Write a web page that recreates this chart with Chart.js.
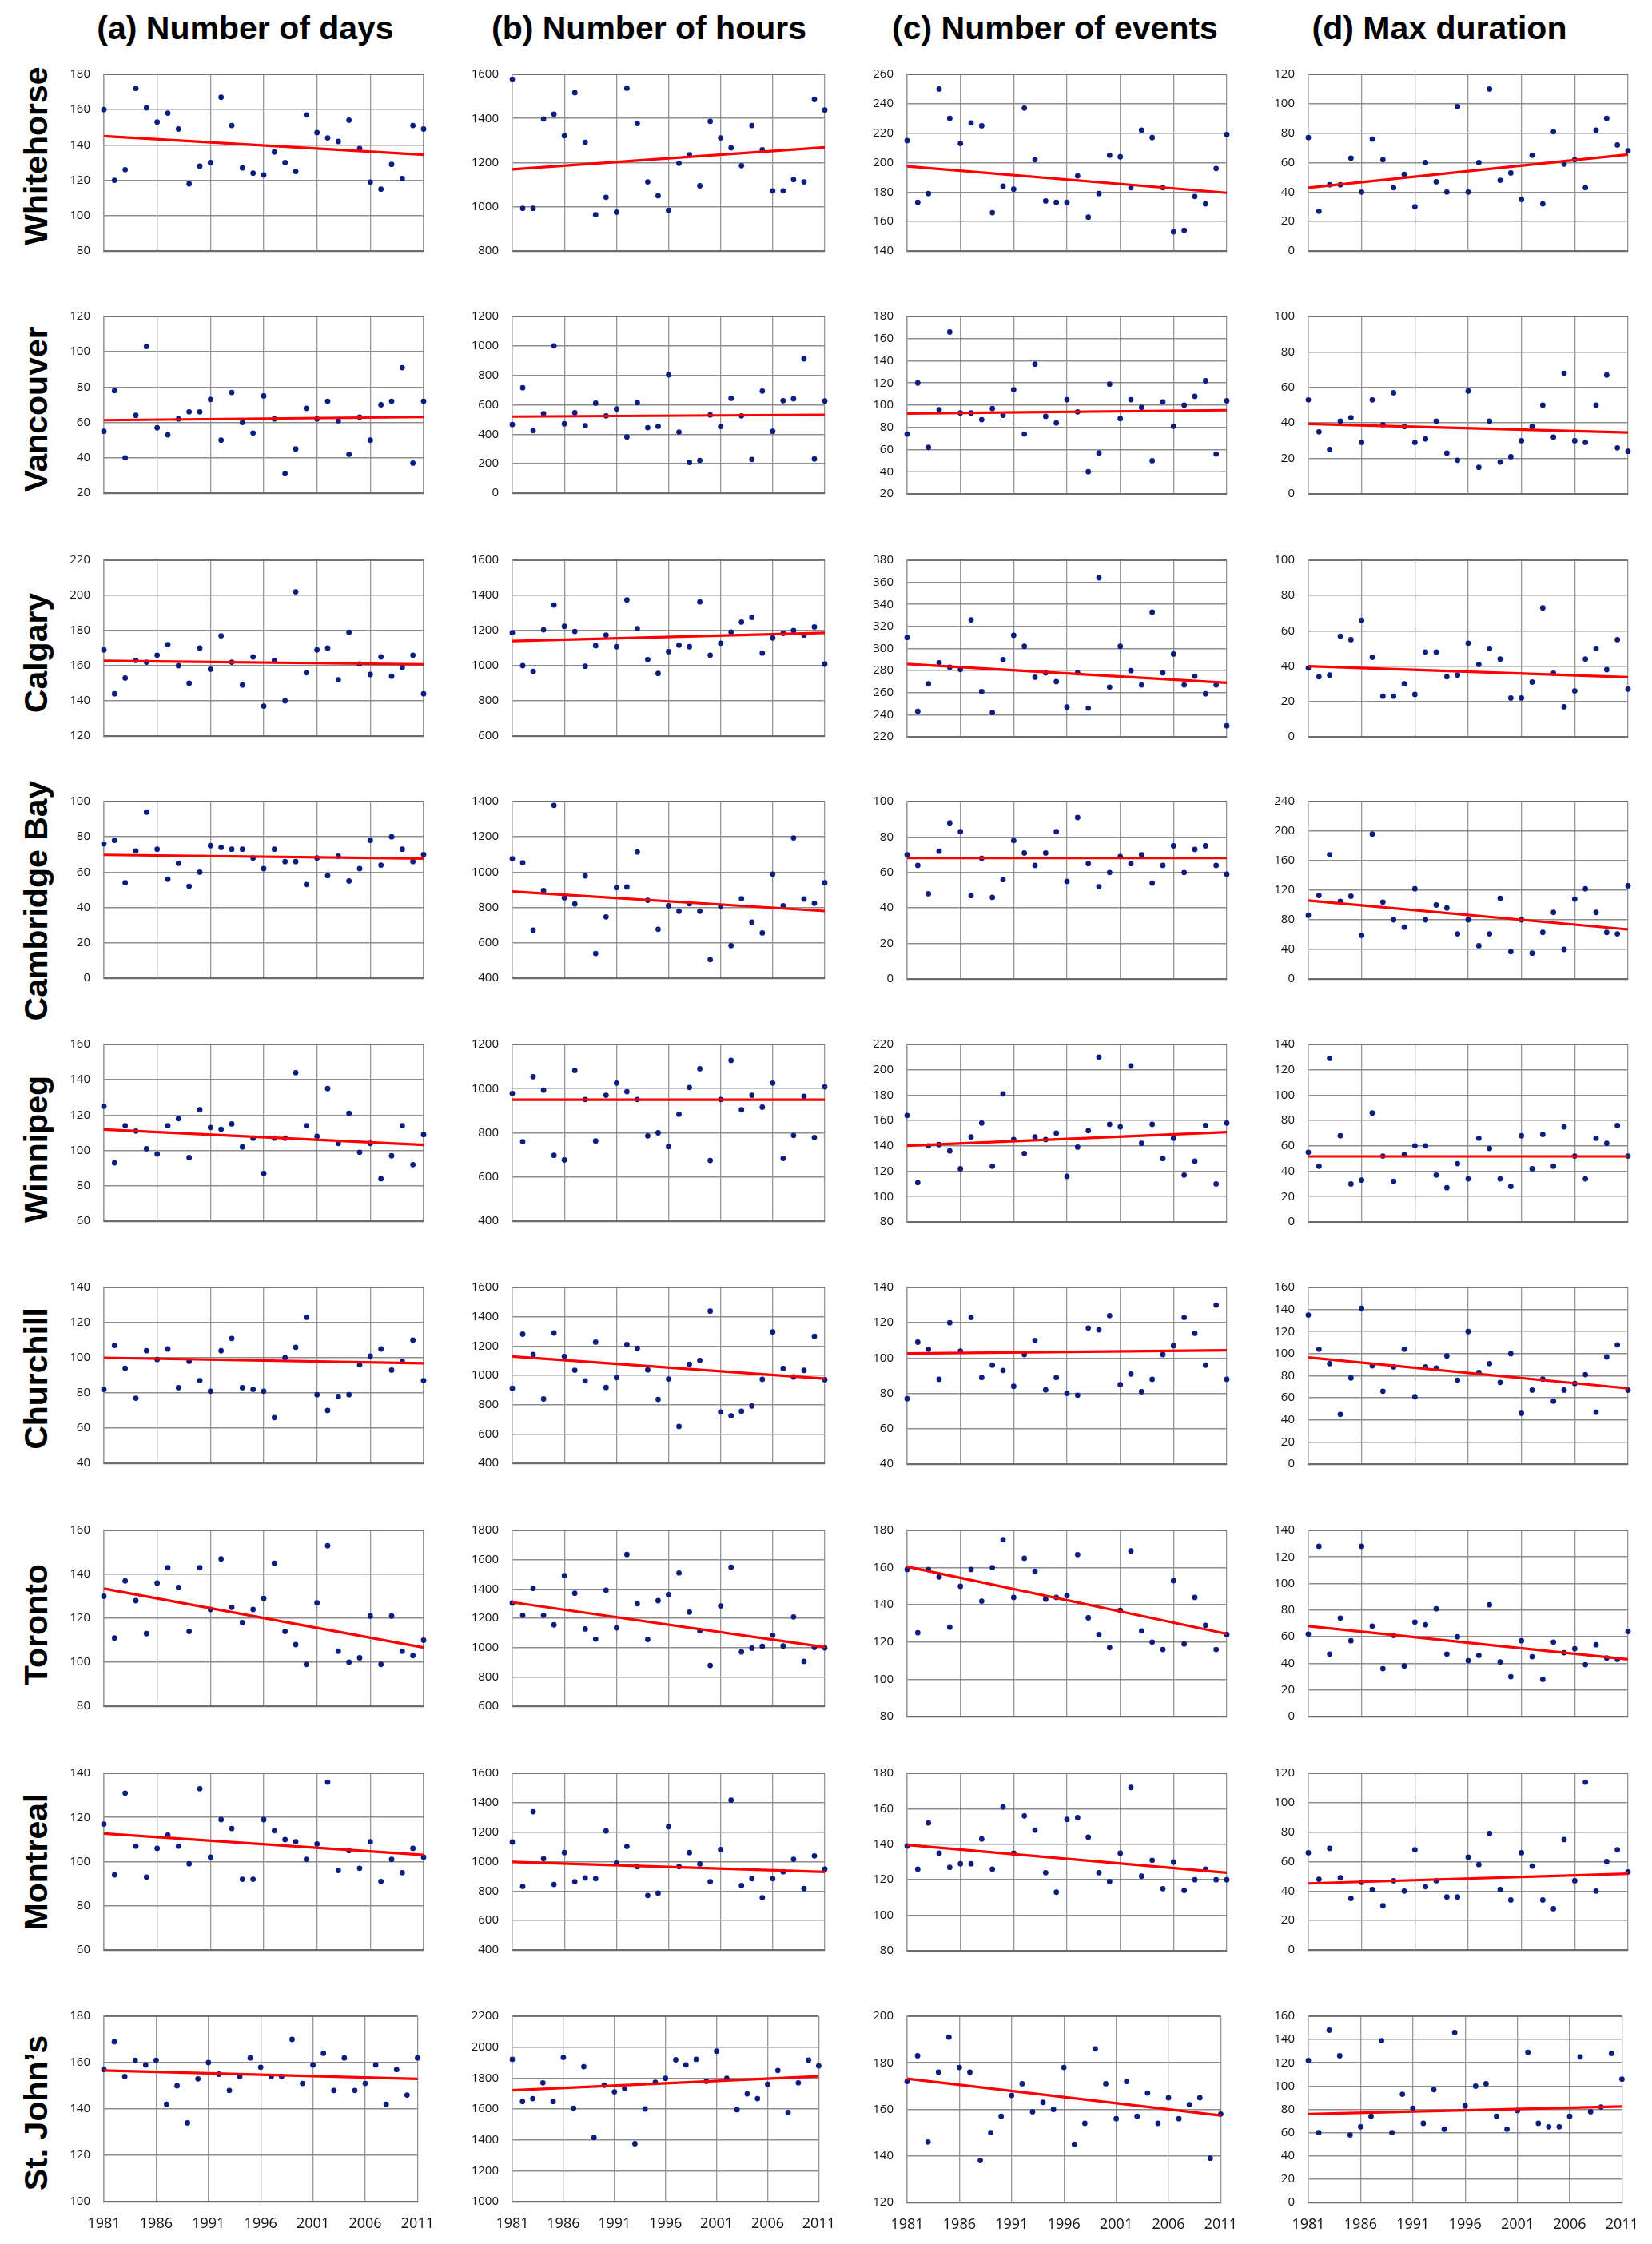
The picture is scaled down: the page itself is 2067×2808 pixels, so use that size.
<!DOCTYPE html>
<html><head><meta charset="utf-8">
<script src="https://cdn.jsdelivr.net/npm/chart.js@4.4.1/dist/chart.umd.min.js"></script>
<style>
html,body{margin:0;padding:0;background:#fff;}
#page{position:relative;width:2067px;height:2808px;overflow:hidden;background:#fff;}
.hdr{position:absolute;font-family:"Liberation Sans",Arial,sans-serif;font-weight:bold;font-size:41px;line-height:1;white-space:nowrap;transform:translate(-50%,-50%);color:#000;}
.rowlab{position:absolute;font-family:"Liberation Sans",Arial,sans-serif;font-weight:bold;font-size:41px;line-height:1;white-space:nowrap;transform:translate(-50%,-50%) rotate(-90deg);color:#000;}
.panel{position:absolute;}
</style></head><body><div id="page"></div>
<script>
// ---------- categories / labels ----------
const years = [1981,1982,1983,1984,1985,1986,1987,1988,1989,1990,1991,1992,1993,1994,1995,1996,1997,1998,1999,2000,2001,2002,2003,2004,2005,2006,2007,2008,2009,2010,2011];
const xTickLabels = [1981,1986,1991,1996,2001,2006,2011];
const stations = ["Whitehorse","Vancouver","Calgary","Cambridge Bay","Winnipeg","Churchill","Toronto","Montreal","St. John\u2019s"];
const metricTitles = ["(a) Number of days","(b) Number of hours","(c) Number of events","(d) Max duration"];

// ---------- series values ----------
const whitehorseDays = [160,120,126,172,161,153,158,149,118,128,130,167,151,127,124,123,136,130,125,157,147,144,142,154,138,119,115,129,121,151,149];
const whitehorseHours = [1578,993,993,1398,1419,1322,1517,1292,964,1043,976,1537,1377,1113,1050,984,1197,1236,1095,1387,1312,1267,1186,1368,1258,1072,1072,1123,1113,1486,1438];
const whitehorseEvents = [215,173,179,250,230,213,227,225,166,184,182,237,202,174,173,173,191,163,179,205,204,183,222,217,183,153,154,177,172,196,219];
const whitehorseMaxDur = [77,27,45,45,63,40,76,62,43,52,30,60,47,40,98,40,60,110,48,53,35,65,32,81,59,62,43,82,90,72,68];

const vancouverDays = [55,78,40,64,103,57,53,62,66,66,73,50,77,60,54,75,62,31,45,68,62,72,61,42,63,50,70,72,91,37,72];
const vancouverHours = [466,716,425,540,1000,471,546,458,611,525,572,382,615,445,454,803,415,209,222,531,453,644,525,229,693,420,628,641,912,232,626];
const vancouverEvents = [74,120,62,96,166,93,93,87,97,91,114,74,137,90,84,105,94,40,57,119,88,105,98,50,103,81,100,108,122,56,104];
const vancouverMaxDur = [53,35,25,41,43,29,53,39,57,38,29,31,41,23,19,58,15,41,18,21,30,38,50,32,68,30,29,50,67,26,24];

const calgaryDays = [169,144,153,163,162,166,172,160,150,170,158,177,162,149,165,137,163,140,202,156,169,170,152,179,161,155,165,154,159,166,144];
const calgaryHours = [1188,1000,967,1204,1345,1224,1195,997,1114,1174,1108,1374,1211,1035,956,1080,1117,1108,1363,1060,1128,1191,1248,1275,1072,1158,1184,1200,1174,1221,1009];
const calgaryEvents = [310,243,268,287,283,281,326,261,242,290,312,302,274,278,270,247,278,246,364,265,302,280,267,333,278,295,267,275,259,267,230];
const calgaryMaxDur = [39,34,35,57,55,66,45,23,23,30,24,48,48,34,35,53,41,50,44,22,22,31,73,36,17,26,44,50,38,55,27];

const cambridgeBayDays = [76,78,54,72,94,73,56,65,52,60,75,74,73,73,68,62,73,66,66,53,68,58,69,55,62,78,64,80,73,66,70];
const cambridgeBayHours = [1076,1053,672,896,1378,855,820,979,540,747,912,916,1114,841,677,810,779,822,779,505,807,584,850,717,656,989,810,1194,848,824,940];
const cambridgeBayEvents = [70,64,48,72,88,83,47,68,46,56,78,71,64,71,83,55,91,65,52,60,69,65,70,54,64,75,60,73,75,64,59];
const cambridgeBayMaxDur = [86,113,168,105,112,59,196,104,80,70,122,80,100,96,61,80,45,61,109,37,80,35,63,90,40,108,122,90,63,61,126];

const winnipegDays = [125,93,114,111,101,98,114,118,96,123,113,112,115,102,107,87,107,107,144,114,108,135,104,121,99,104,84,97,114,92,109];
const winnipegHours = [978,760,1054,993,698,677,1082,951,763,970,1025,986,951,786,800,738,884,1005,1090,675,951,1128,904,970,916,1025,684,788,965,779,1008];
const winnipegEvents = [164,111,140,141,136,122,147,158,124,181,145,134,147,145,150,116,139,152,210,157,155,203,142,157,130,146,117,128,156,110,158];
const winnipegMaxDur = [55,44,129,68,30,33,86,52,32,53,60,60,37,27,46,34,66,58,34,28,68,42,69,44,75,52,34,66,62,76,52];

const churchillDays = [82,107,94,77,104,99,105,83,98,87,81,104,111,83,82,81,66,100,106,123,79,70,78,79,96,101,105,93,98,110,87];
const churchillHours = [912,1281,1142,839,1289,1129,1035,963,1227,917,985,1210,1184,1037,836,975,651,1076,1102,1438,750,724,755,791,973,1296,1047,989,1034,1266,970];
const churchillEvents = [77,109,105,88,120,104,123,89,96,93,84,102,110,82,89,80,79,117,116,124,85,91,81,88,102,107,123,114,96,130,88];
const churchillMaxDur = [135,104,91,45,78,141,89,66,88,104,61,88,87,98,76,120,83,91,74,100,46,67,77,57,67,73,81,47,97,108,67];

const torontoDays = [130,111,137,128,113,136,143,134,114,143,124,147,125,118,124,129,145,114,108,99,127,153,105,100,102,121,99,121,105,103,110];
const torontoHours = [1304,1220,1404,1220,1155,1491,1371,1127,1058,1391,1134,1635,1299,1055,1320,1361,1509,1242,1114,878,1284,1548,970,996,1008,1085,1011,1209,906,1001,998];
const torontoEvents = [159,125,159,155,128,150,159,142,160,175,144,165,158,143,144,145,167,133,124,117,137,169,126,120,116,153,119,144,129,116,124];
const torontoMaxDur = [62,128,47,74,57,128,68,36,61,38,71,69,81,47,60,42,46,84,41,30,57,45,28,56,48,51,39,54,44,43,64];

const montrealDays = [117,94,131,107,93,106,112,107,99,133,102,119,115,92,92,119,114,110,109,101,108,136,96,105,97,109,91,101,95,106,102];
const montrealHours = [1133,832,1339,1020,845,1061,864,889,884,1208,990,1103,966,770,786,1237,966,1061,984,864,1082,1417,837,884,755,884,931,1016,817,1039,949];
const montrealEvents = [139,126,152,135,127,129,129,143,126,161,135,156,148,124,113,154,155,144,124,119,135,172,122,131,115,130,114,120,126,120,120];
const montrealMaxDur = [66,48,69,49,35,46,41,30,47,40,68,43,47,36,36,63,58,79,41,34,66,57,34,28,75,47,114,40,60,68,53];

const stJohnsDays = [157,169,154,161,159,161,142,150,134,153,160,155,148,154,162,158,154,154,170,151,159,164,148,162,148,151,159,142,157,146,162];
const stJohnsHours = [1921,1648,1667,1769,1648,1933,1605,1874,1415,1754,1711,1733,1375,1600,1772,1798,1918,1885,1921,1779,1974,1798,1595,1698,1667,1759,1849,1577,1769,1916,1879];
const stJohnsEvents = [172,183,146,176,191,178,176,138,150,157,166,171,159,163,160,178,145,154,186,171,156,172,157,167,154,165,156,162,165,139,158];
const stJohnsMaxDur = [122,60,148,126,58,65,74,139,60,93,81,68,97,63,146,83,100,102,74,63,79,129,68,65,65,74,125,78,82,128,106];

// ---------- trend line end values (1981, 2011) ----------
const daysTrendStart   = [145, 61.3, 162.8, 69.8, 111.9, 100, 133.5, 112.7, 156.6];
const daysTrendEnd     = [134.5, 63.1, 160.8, 67.7, 103.2, 96.9, 106.7, 103, 153];
const hoursTrendStart  = [1170, 520, 1140, 890, 950, 1129, 1309, 998, 1721];
const hoursTrendEnd    = [1269, 532, 1187, 780, 950, 978, 1003, 930, 1811];
const eventsTrendStart = [197.5, 92.5, 286, 68.2, 140.2, 102.6, 160.5, 139.6, 173.2];
const eventsTrendEnd   = [179.5, 95.5, 269, 68.2, 150.9, 104.4, 124.4, 124, 157.4];
const durTrendStart    = [43, 39.5, 40, 106, 51.7, 96.5, 68, 45.2, 76];
const durTrendEnd      = [65.5, 34.6, 33.8, 67, 51.7, 68.6, 43, 51.8, 82.5];

// ---------- y tick ranges ----------
const daysAxisMin   = [80, 20, 120, 0, 60, 40, 80, 60, 100];
const daysAxisMax   = [180, 120, 220, 100, 160, 140, 160, 140, 180];
const daysAxisStep  = [20, 20, 20, 20, 20, 20, 20, 20, 20];
const hoursAxisMin  = [800, 0, 600, 400, 400, 400, 600, 400, 1000];
const hoursAxisMax  = [1600, 1200, 1600, 1400, 1200, 1600, 1800, 1600, 2200];
const hoursAxisStep = [200, 200, 200, 200, 200, 200, 200, 200, 200];
const eventsAxisMin = [140, 20, 220, 0, 80, 40, 80, 80, 120];
const eventsAxisMax = [260, 180, 380, 100, 220, 140, 180, 180, 200];
const eventsAxisStep= [20, 20, 20, 20, 20, 20, 20, 20, 20];
const durAxisMin    = [0, 0, 0, 0, 0, 0, 0, 0, 0];
const durAxisMax    = [120, 100, 100, 240, 140, 160, 140, 120, 160];
const durAxisStep   = [20, 20, 20, 40, 20, 20, 20, 20, 20];

// ---------- tables built from the arrays ----------
const seriesTable = [
  [whitehorseDays, whitehorseHours, whitehorseEvents, whitehorseMaxDur],
  [vancouverDays, vancouverHours, vancouverEvents, vancouverMaxDur],
  [calgaryDays, calgaryHours, calgaryEvents, calgaryMaxDur],
  [cambridgeBayDays, cambridgeBayHours, cambridgeBayEvents, cambridgeBayMaxDur],
  [winnipegDays, winnipegHours, winnipegEvents, winnipegMaxDur],
  [churchillDays, churchillHours, churchillEvents, churchillMaxDur],
  [torontoDays, torontoHours, torontoEvents, torontoMaxDur],
  [montrealDays, montrealHours, montrealEvents, montrealMaxDur],
  [stJohnsDays, stJohnsHours, stJohnsEvents, stJohnsMaxDur]
];
const trendStartCols = [daysTrendStart, hoursTrendStart, eventsTrendStart, durTrendStart];
const trendEndCols = [daysTrendEnd, hoursTrendEnd, eventsTrendEnd, durTrendEnd];
const axisMinCols = [daysAxisMin, hoursAxisMin, eventsAxisMin, durAxisMin];
const axisMaxCols = [daysAxisMax, hoursAxisMax, eventsAxisMax, durAxisMax];
const axisStepCols = [daysAxisStep, hoursAxisStep, eventsAxisStep, durAxisStep];

// ---------- layout (page pixels) ----------
const colLeft = [130, 641, 1135, 1637];
const colRight = [530, 1032, 1535, 2037];
const rowTop = [81, 384, 689, 991, 1295, 1599, 1903, 2207, 2511];
const rowBottom = [
  [326,326,326,326],[629,629,630,630],[933,933,934,934],[1236,1236,1237,1237],
  [1540,1540,1541,1541],[1843,1843,1844,1844],[2147,2147,2160,2160],[2452,2452,2453,2452],[2755,2755,2756,2756]
];
const headerX = [307, 812, 1320, 1801];
const headerY = 35;
const rowLabelX = 45;
const rowLabelY = [195, 512, 817, 1127, 1438, 1725, 2033, 2330, 2644];

Chart.defaults.font.family = "'Open Sans', 'DejaVu Sans', sans-serif";
const page = document.getElementById('page');

metricTitles.forEach((t, c) => {
  const d = document.createElement('div');
  d.className = 'hdr'; d.textContent = t;
  d.style.left = headerX[c] + 'px'; d.style.top = headerY + 'px';
  page.appendChild(d);
});
stations.forEach((s, r) => {
  const d = document.createElement('div');
  d.className = 'rowlab'; d.textContent = s;
  d.style.left = rowLabelX + 'px'; d.style.top = rowLabelY[r] + 'px';
  page.appendChild(d);
});

const HGRID = '#8d8d8d';
const VGRID = '#979797';
function makePanel(r, c) {
  const L = colLeft[c], R = colRight[c], T = rowTop[r], B = rowBottom[r][c];
  const last = r === stations.length - 1;
  const AX = 70, PT = 14, PR = 30, PB = last ? 0 : 14, XH = last ? 52 : 0;
  const w = R - L + AX + PR, h = B - T + PT + PB + XH;
  const div = document.createElement('div');
  div.className = 'panel';
  div.style.left = (L - AX) + 'px'; div.style.top = (T - PT) + 'px';
  div.style.width = w + 'px'; div.style.height = h + 'px';
  const cv = document.createElement('canvas');
  cv.width = w; cv.height = h; cv.style.width = w + 'px'; cv.style.height = h + 'px';
  div.appendChild(cv); page.appendChild(div);
  const vals = seriesTable[r][c];
  const yMax = axisMaxCols[c][r];
  new Chart(cv, {
    type: 'scatter',
    data: { datasets: [
      { type: 'line', data: [{x: years[0], y: trendStartCols[c][r]}, {x: years[years.length-1], y: trendEndCols[c][r]}],
        borderColor: '#ff0000', borderWidth: 3.2, pointRadius: 0, fill: false, tension: 0, clip: false },
      { type: 'scatter', data: years.map((yr, i) => ({x: yr, y: vals[i]})),
        backgroundColor: '#0b1d7e', borderColor: '#0b1d7e', pointRadius: 3.4, borderWidth: 0, clip: false }
    ]},
    options: {
      responsive: false, animation: false, events: [],
      layout: { padding: { left: 0, top: PT, right: PR, bottom: PB } },
      plugins: { legend: { display: false }, tooltip: { enabled: false } },
      scales: {
        x: { type: 'linear', min: years[0], max: years[years.length-1],
          afterBuildTicks: s => { s.ticks = xTickLabels.map(v => ({ value: v })); },
          afterFit: s => { s.height = XH; },
          grid: { color: VGRID, lineWidth: 1.3, drawTicks: false },
          border: { display: true, color: '#6c6c6c', width: 2.2 },
          ticks: { display: last, padding: 17, color: '#111', font: { size: 18 }, maxRotation: 0, autoSkip: false, callback: v => String(v) } },
        y: { type: 'linear', min: axisMinCols[c][r], max: yMax,
          afterFit: s => { s.width = AX; },
          grid: { color: ctx => (ctx.tick && ctx.tick.value === yMax) ? '#737373' : HGRID,
                  lineWidth: ctx => (ctx.tick && ctx.tick.value === yMax) ? 2 : 1.6, drawTicks: false },
          border: { display: true, color: VGRID, width: 1.4 },
          ticks: { stepSize: axisStepCols[c][r], padding: 17, color: '#111', font: { size: 15 }, callback: v => String(v) } }
      }
    }
  });
}
for (let r = 0; r < stations.length; r++) for (let c = 0; c < 4; c++) makePanel(r, c);
</script></body></html>
